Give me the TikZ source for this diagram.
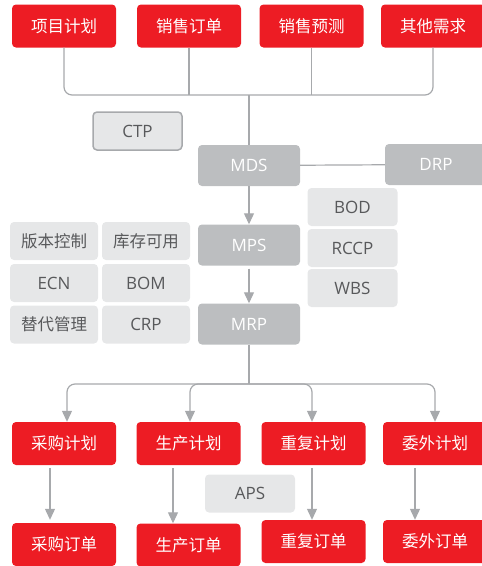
\documentclass[tikz,border=0pt]{standalone}
\usepackage{fontspec}
\setmainfont{Open Sans}
\newfontfamily\cjk{Noto Sans CJK SC}
\usetikzlibrary{arrows.meta}
\usetikzlibrary{positioning}
\definecolor{ered}{HTML}{ED1C24}
\definecolor{egray}{HTML}{BCBEC0}
\definecolor{elight}{HTML}{E6E7E8}
\definecolor{eline}{HTML}{A7A9AC}
\definecolor{etext}{HTML}{58595B}

\begin{document}
\begin{tikzpicture}[x=1pt,y=-1pt,on grid,
    box/.style={rectangle,rounded corners=4pt,inner sep=0pt,font=\fontsize{17}{20}\selectfont},
    need/.style={box,fill=ered,text=white,minimum width=104pt,minimum height=43pt,font=\cjk\fontsize{16.5}{19}\selectfont},
    plan/.style={box,fill=egray,text=white,minimum width=102pt,minimum height=41pt},
    tool/.style={box,fill=elight,text=etext,minimum width=90pt,minimum height=38pt},
    link/.style={color=eline,line width=1.2pt},
    >={Triangle[width=10pt,length=11pt]}]
  \useasboundingbox (0,0) rectangle (482,566);
  \node[need] (s_0) at (64,26) {项目计划};
  \node[need] (s_1) [right=125pt of s_0] {销售订单};
  \node[need] (s_2) [right=122.5pt of s_1] {销售预测};
  \node[need] (s_3) [right=121.5pt of s_2] {其他需求};
  \node[tool,draw=eline,line width=1.5pt,minimum width=89pt] (ctp) at (137.5,131) {CTP};
  \node[plan] (mds) at (249,165.5) {MDS};
  \node[plan] (drp) at (436,164.5) {DRP};
  \node[plan] (mps) [below=79.5pt of mds] {MPS};
  \node[plan] (mrp) [below=79pt of mps] {MRP};
  \node[tool] (bod) at (352.5,207) {BOD};
  \node[tool] (rccp) [below=41pt of bod] {RCCP};
  \node[tool] (wbs) [below=40pt of rccp] {WBS};
  \node[tool,minimum width=88pt] (ver) at (54,241) {\cjk\fontsize{16.5}{19}\selectfont 版本控制};
  \node[tool,minimum width=88pt] (stock) [right=92pt of ver] {\cjk\fontsize{16.5}{19}\selectfont 库存可用};
  \node[tool,minimum width=88pt] (ecn) [below=42pt of ver] {ECN};
  \node[tool,minimum width=88pt] (bom) [right=92pt of ecn] {BOM};
  \node[tool,minimum width=88pt] (alt) [below=41.5pt of ecn] {\cjk\fontsize{16.5}{19}\selectfont 替代管理};
  \node[tool,minimum width=88pt] (crp) [right=92pt of alt] {CRP};
  \node[need] (p_0) at (64,443.5) {采购计划};
  \node[need] (p_1) [right=124.5pt of p_0] {生产计划};
  \node[need] (p_2) [right=125pt of p_1] {重复计划};
  \node[need] (p_3) [right=121.5pt of p_2] {委外计划};
  \node[need] (o_0) [below=101pt of p_0] {采购订单};
  \node[need] (o_1) [below=101.5pt of p_1] {生产订单};
  \node[need] (o_2) [below=98pt of p_2] {重复订单};
  \node[need] (o_3) [below=98pt of p_3] {委外订单};
  \node[tool] (aps) at (250,493.5) {APS};
  \coordinate (j) at (249,95);
  \coordinate (k) at (249,384);
  \draw[link,rounded corners=8pt] (s_0.south) |- (j) -| (s_3.south);
  \draw[link] (s_1.south) -- (s_1.south |- j);
  \draw[link] (s_2.south) -- (s_2.south |- j);
  \draw[link] (j) -- (mds);
  \draw[link] (mds) -- (drp);
  \path[link,->]
  (mds) edge (mps)
  (mps) edge[shorten <=3pt] (mrp);
  \draw[link] (mrp) -- (k);
  \draw[link,->,rounded corners=8pt] (k) -| ([xshift=3pt]p_0.north);
  \draw[link,->,rounded corners=8pt] (k) -| ([xshift=1.5pt]p_1.north);
  \draw[link,->,rounded corners=8pt] (k) -| ([xshift=-1.5pt]p_2.north);
  \draw[link,->,rounded corners=8pt] (k) -| (p_3.north);
  \draw[link,->,shorten <=3pt,shorten >=3pt] ([xshift=-14pt]p_0.south) -- ([xshift=-14pt]o_0.north);
  \draw[link,->,shorten <=3pt] ([xshift=-15.5pt]p_1.south) -- ([xshift=-15.5pt]o_1.north);
  \draw[link,->,shorten <=3pt] ([xshift=-1.5pt]p_2.south) -- ([xshift=-1.5pt]o_2.north);
  \draw[link,->,shorten <=3pt] ([xshift=-20pt]p_3.south) -- ([xshift=-20pt]o_3.north);
\end{tikzpicture}
\end{document}
